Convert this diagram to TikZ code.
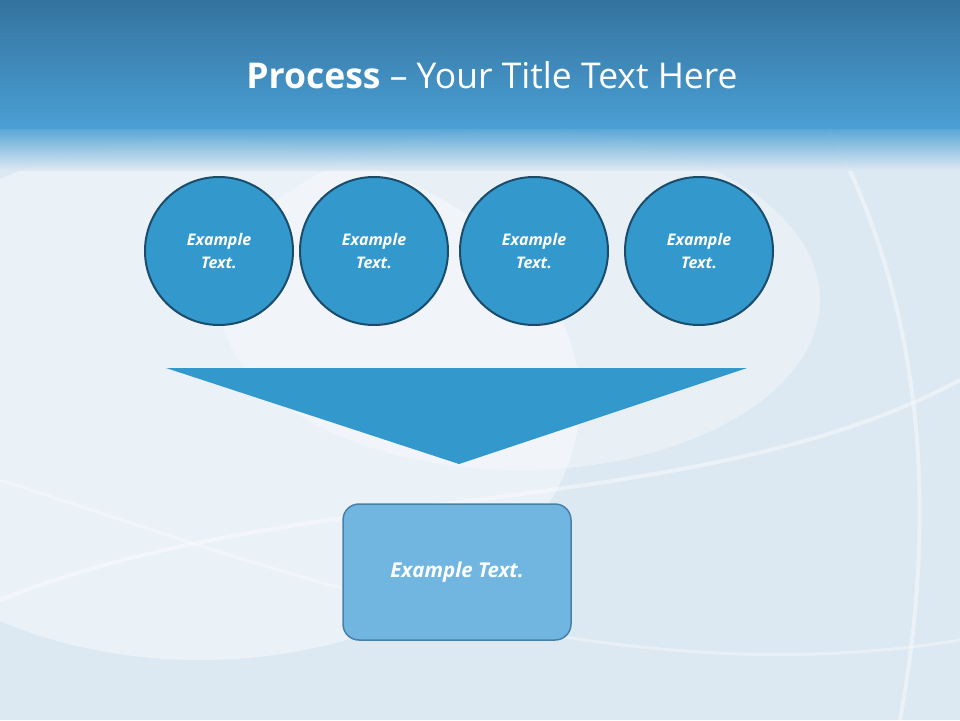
\documentclass[tikz,border=0pt]{standalone}
\usepackage{fontspec}
\setmainfont{Open Sans}
\begin{document}
\begin{tikzpicture}[x=1pt,y=-1pt,
  circ/.style={circle,draw=circborder,line width=2pt,fill=circfill,minimum size=148pt,inner sep=0pt,text=white,align=center,font=\fontsize{16}{23}\selectfont\bfseries\itshape},
  tri/.style={fill=circfill,draw=none},
  resbox/.style={draw=boxborder,line width=1.5pt,fill=boxfill,rounded corners=16pt,minimum width=228pt,minimum height=136pt,text=white,font=\fontsize{20.5}{24}\selectfont\bfseries\itshape}]
\definecolor{circfill}{HTML}{3399CC}
\definecolor{circborder}{HTML}{1A4C6C}
\definecolor{boxfill}{HTML}{70B6E0}
\definecolor{boxborder}{HTML}{4A80A8}
\definecolor{bg}{HTML}{DCE8F2}
\definecolor{topdark}{HTML}{34739F}
\definecolor{topmid}{HTML}{4A9FD4}
\useasboundingbox (0,0) rectangle (960,720);
\fill[bg] (0,0) rectangle (960,720);
\fill[white,opacity=0.4] (200,400) ellipse (380 and 260);
\fill[white,opacity=0.35] (520,300) ellipse (300 and 170);
\draw[white,line width=4pt,opacity=0.4] (0,600) .. controls (300,480) and (700,520) .. (960,380);
\draw[white,line width=3pt,opacity=0.35] (0,480) .. controls (250,560) and (600,700) .. (960,640);
\draw[white,line width=4pt,opacity=0.4] (830,130) .. controls (920,300) and (940,500) .. (900,720);
\shade[top color=topdark,bottom color=topmid] (0,0) rectangle (960,128);
\shade[top color=topmid,bottom color=bg,opacity=0.9] (0,128) rectangle (960,170);
\node[text=white,font=\fontsize{35.5}{40}\selectfont] (title) at (492,75) {\textbf{Process} -- Your Title Text Here};
\node[circ] (c1) at (219,251) {Example\\Text.};
\node[circ] (c2) at (374,251) {Example\\Text.};
\node[circ] (c3) at (534,251) {Example\\Text.};
\node[circ] (c4) at (699,251) {Example\\Text.};
\coordinate (t1) at (166,368);
\coordinate (t2) at (747,368);
\coordinate (t3) at (459,464);
\fill[tri] (t1) -- (t2) -- (t3) -- cycle;
\node[resbox] (res) at (457,572) {Example Text.};
\end{tikzpicture}
\end{document}
